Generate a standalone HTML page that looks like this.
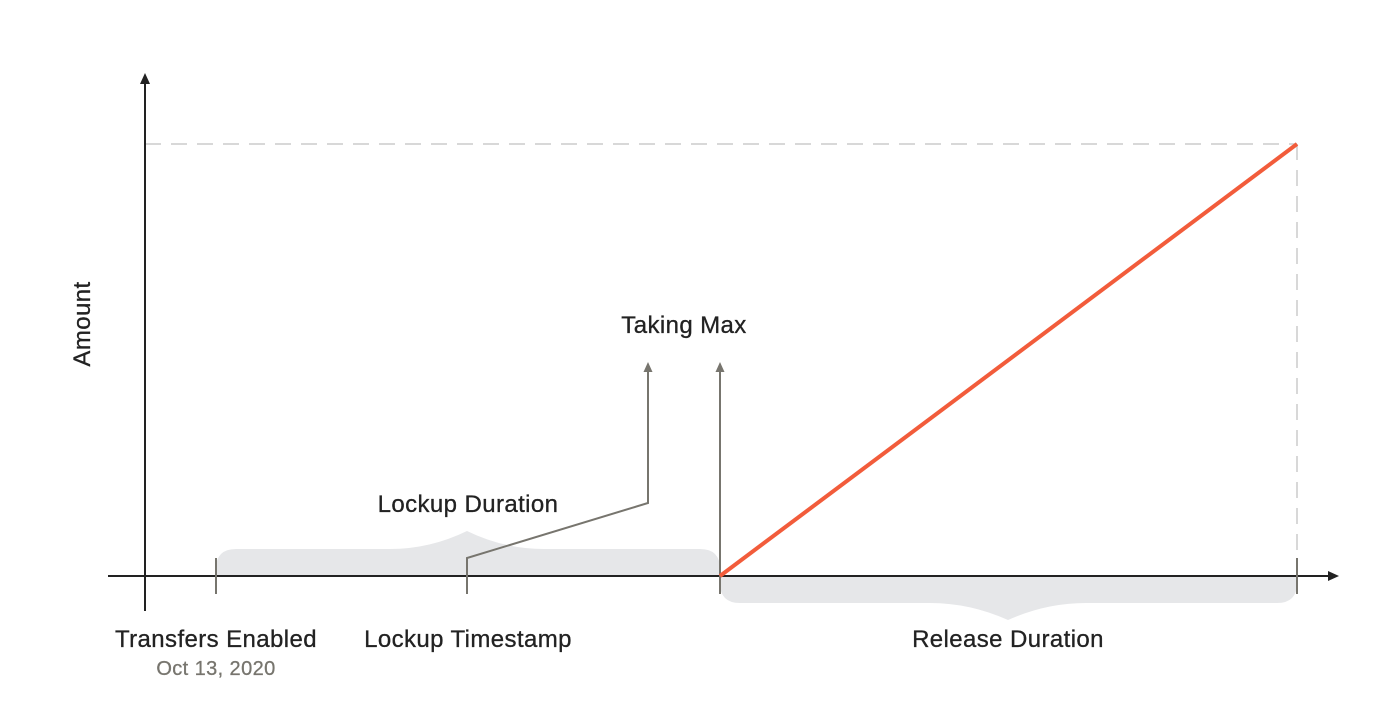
<!DOCTYPE html>
<html><head><meta charset="utf-8"><style>
html,body{margin:0;padding:0;background:#fff;}
svg{display:block;font-family:"Liberation Sans",sans-serif;}
</style></head><body>
<svg width="1400" height="720" viewBox="0 0 1400 720">
<defs>
<marker id="ah" markerWidth="12" markerHeight="12" refX="6" refY="6" orient="auto" markerUnits="userSpaceOnUse"><path d="M0,1 L11,6 L0,11 Z" fill="#222"/></marker>
<marker id="ag" markerWidth="12" markerHeight="12" refX="6" refY="6" orient="auto" markerUnits="userSpaceOnUse"><path d="M0,1.5 L10,6 L0,10.5 Z" fill="#77756e"/></marker>
</defs>
<path d="M216,576 L216,569 Q216,549 236,549 L390,549 Q430,549 467,531 Q504,549 544,549 L700,549 Q720,549 720,569 L720,576 Z" fill="#e6e7e9"/>
<path d="M720,576 L720,583 Q720,603 740,603 L930,603 Q970,603 1008,620 Q1046,603 1086,603 L1277,603 Q1297,603 1297,583 L1297,576 Z" fill="#e6e7e9"/>
<line x1="145" y1="144" x2="1297" y2="144" stroke="#ccc" stroke-width="1.5" stroke-dasharray="16,10"/>
<line x1="1297" y1="144" x2="1297" y2="576" stroke="#ccc" stroke-width="1.5" stroke-dasharray="16,10"/>
<line x1="145" y1="611" x2="145" y2="78" stroke="#222" stroke-width="2" marker-end="url(#ah)"/>
<line x1="108" y1="576" x2="1334" y2="576" stroke="#222" stroke-width="2" marker-end="url(#ah)"/>
<g stroke="#77756e" stroke-width="2" fill="none">
<line x1="216" y1="558" x2="216" y2="594"/>
<line x1="467" y1="576" x2="467" y2="594"/>
<line x1="1297" y1="558" x2="1297" y2="594"/>
<line x1="720" y1="594" x2="720" y2="366" marker-end="url(#ag)"/>
<polyline points="467,576 467,558 648,503 648,366" marker-end="url(#ag)"/>
</g>
<line x1="720" y1="576" x2="1297" y2="144" stroke="#f25c3b" stroke-width="4"/>
<g font-size="24" fill="#222" text-anchor="middle" letter-spacing="0.4" stroke="#222" stroke-width="0.3">
<text x="684" y="333">Taking Max</text>
<text x="468" y="512">Lockup Duration</text>
<text x="216" y="647">Transfers Enabled</text>
<text x="468" y="647">Lockup Timestamp</text>
<text x="1008" y="647">Release Duration</text>
<text x="216" y="675" font-size="20" fill="#77756e" stroke="#77756e">Oct 13, 2020</text>
<text transform="translate(90,324) rotate(-90)">Amount</text>
</g>
</svg>
</body></html>
